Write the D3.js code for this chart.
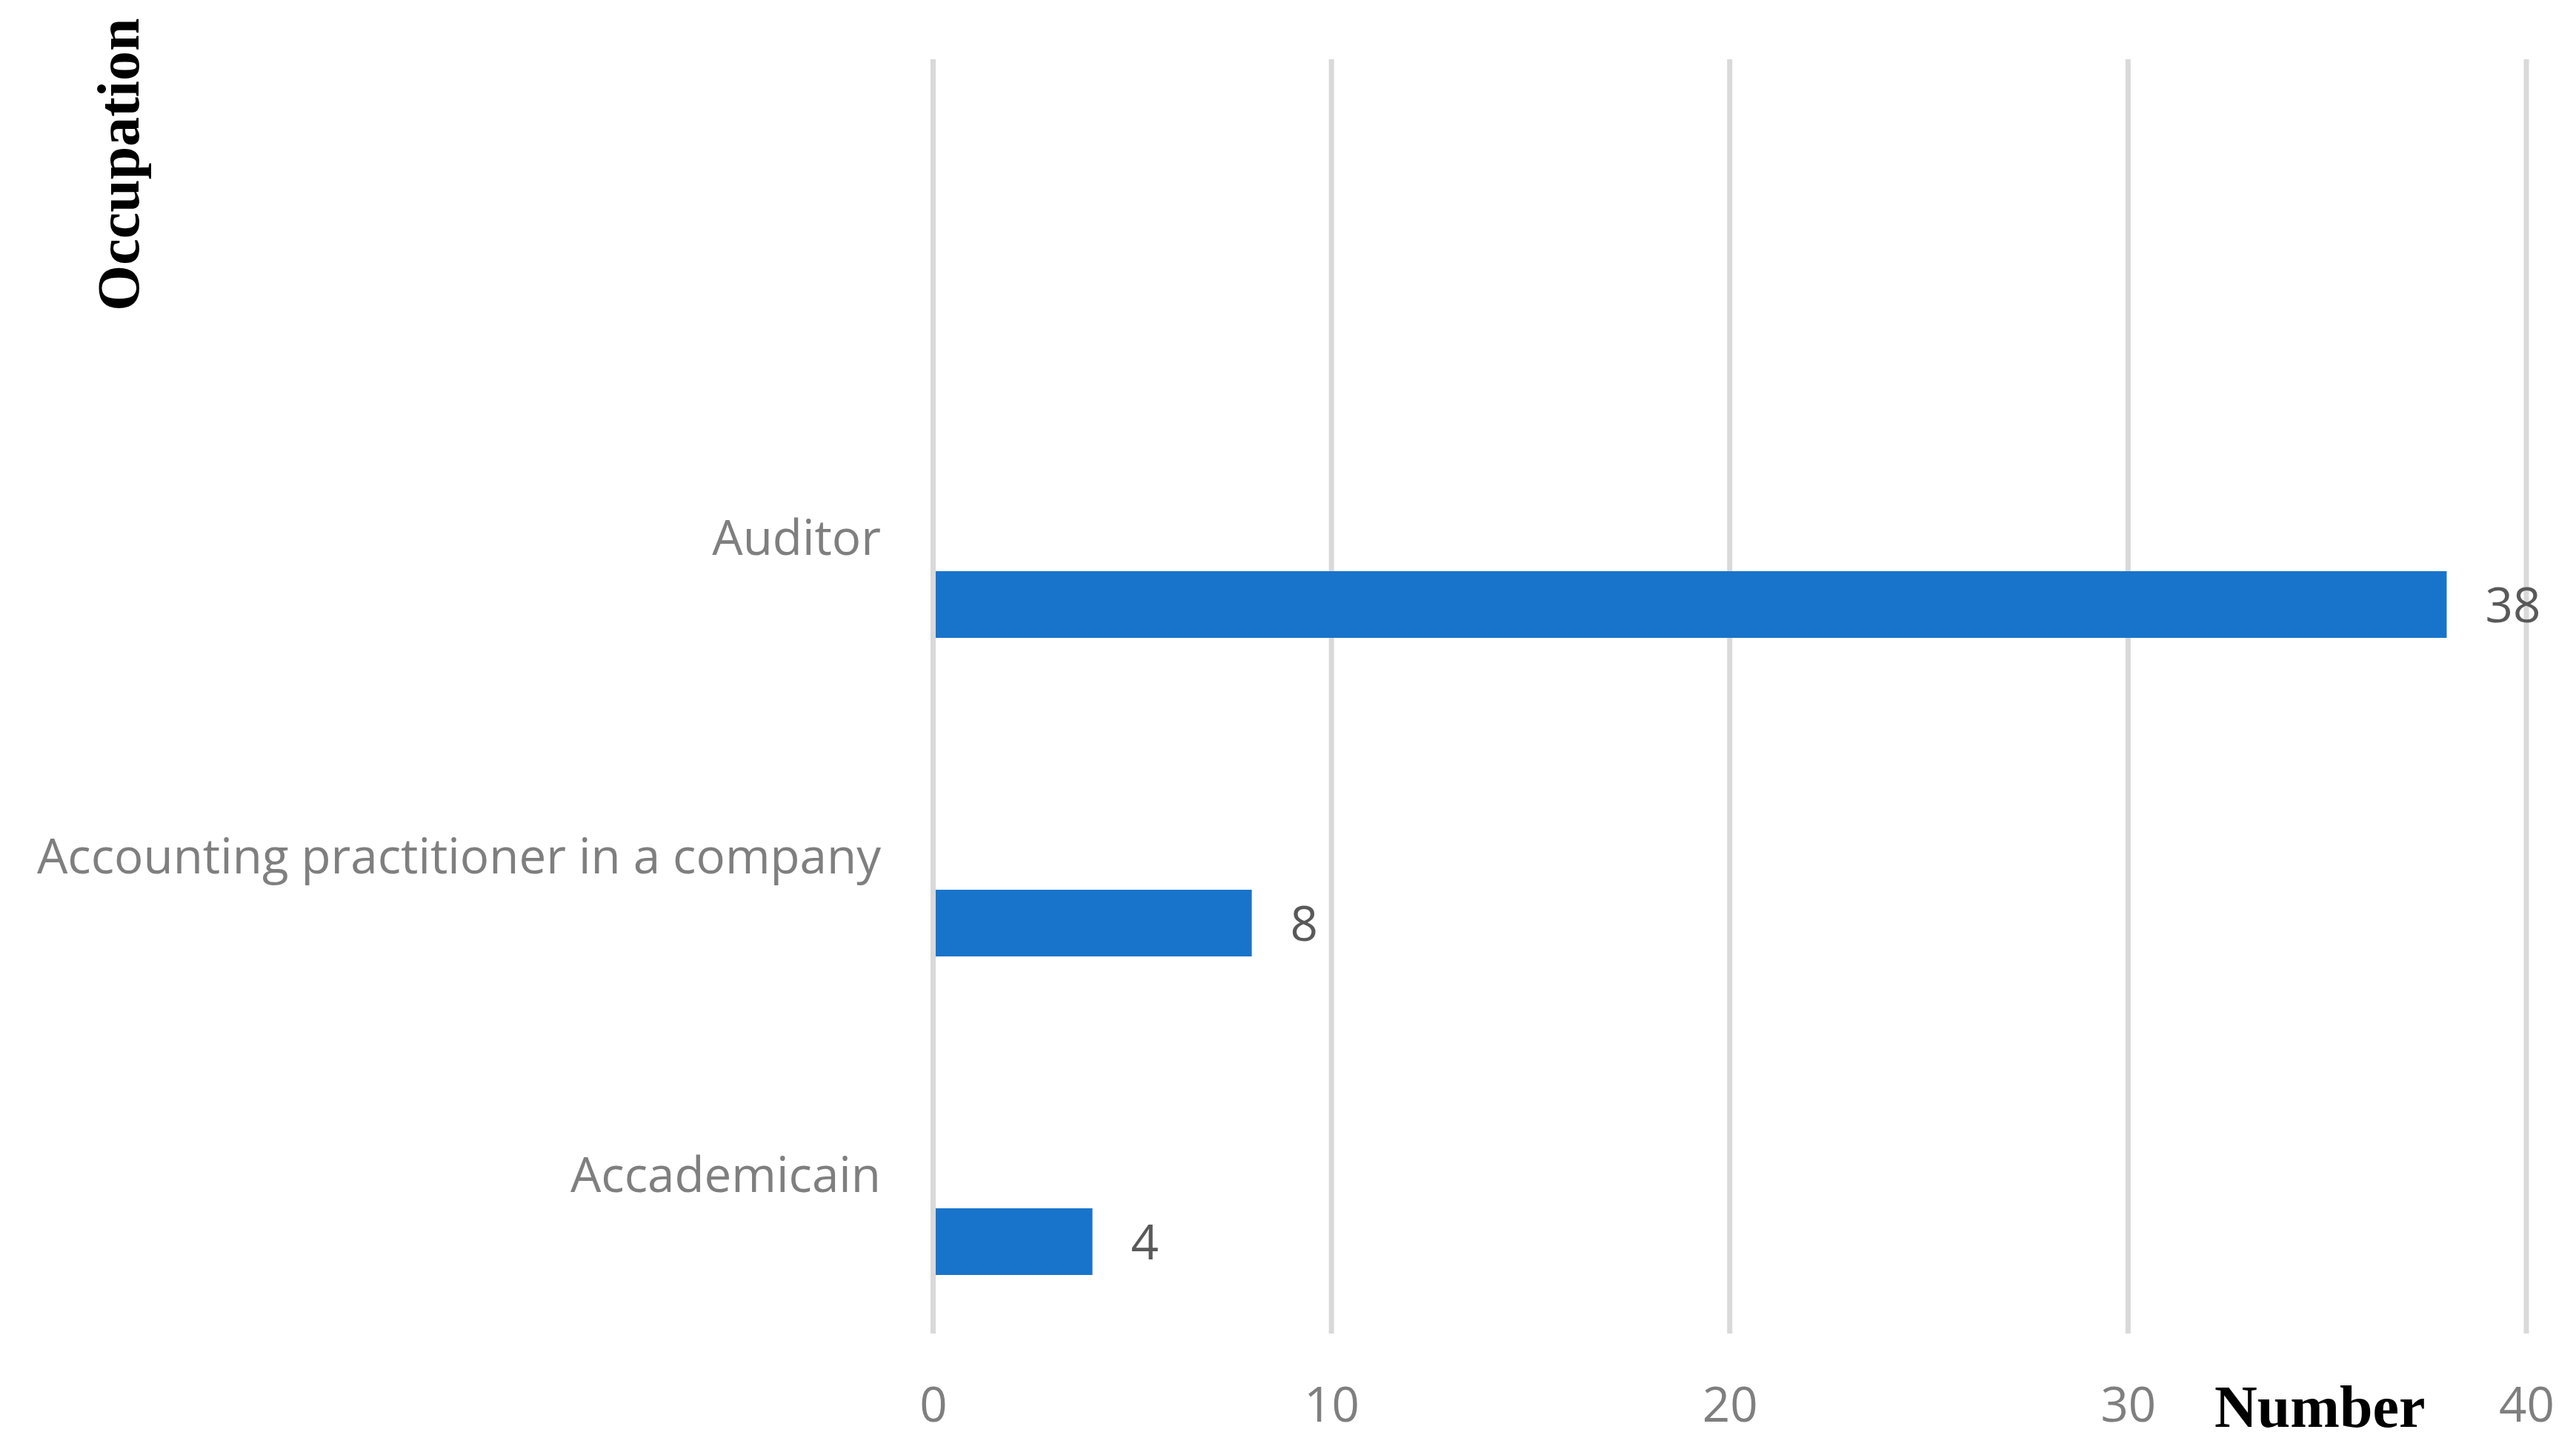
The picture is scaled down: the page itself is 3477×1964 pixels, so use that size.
<!DOCTYPE html>
<html>
<head>
<meta charset="utf-8">
<script src="https://cdn.jsdelivr.net/npm/d3@7"></script>
<style>
html,body{margin:0;padding:0;background:#fff;}
svg{display:block;}
</style>
</head>
<body>
<svg id="chart" width="3477" height="1964"></svg>
<script>
const categories = ["Auditor", "Accounting practitioner in a company", "Accademicain"];
const values = [38, 8, 4];
const xTicks = [0, 10, 20, 30, 40];
const xTitle = "Number";
const yTitle = "Occupation";

const W = 3477, H = 1964;
const svg = d3.select("#chart");
const labelFont = "'Open Sans', 'Noto Sans', sans-serif";
const titleFont = "'Liberation Serif', 'DejaVu Serif', serif";
const labelSize = 65.5;

const plotTop = 80, plotBottom = 1800;
const x = d3.scaleLinear().domain([0, 40]).range([1259.5, 3410]);
// four equal category bands; the top one is empty
const bandH = (plotBottom - plotTop) / 4;
const y = d3.scaleBand().domain(categories).range([plotTop + bandH, plotBottom]);

// gridlines
svg.append("g")
  .selectAll("line").data(xTicks).join("line")
  .attr("x1", d => x(d)).attr("x2", d => x(d))
  .attr("y1", plotTop).attr("y2", plotBottom)
  .attr("stroke", "#d9d9d9").attr("stroke-width", 7);

// x tick labels
const xAxis = d3.axisBottom(x).tickValues(xTicks).tickSize(0).tickPadding(0).tickFormat(d3.format("d"));
const gx = svg.append("g").attr("transform", `translate(0,1919)`).call(xAxis);
gx.select(".domain").remove();
gx.selectAll("text")
  .attr("dy", 0).attr("y", 0)
  .attr("font-family", labelFont).attr("font-size", labelSize).attr("fill", "#7f7f7f");

// bars
const barOff = 0.607, barFrac = 0.2093;
svg.append("g")
  .selectAll("rect").data(values).join("rect")
  .attr("x", x(0) + 3.5)
  .attr("y", (d, i) => y(categories[i]) + y.bandwidth() * barOff)
  .attr("width", d => x(d) - x(0) - 3.5)
  .attr("height", y.bandwidth() * barFrac)
  .attr("fill", "#1874cb");

// data labels
svg.append("g")
  .selectAll("text").data(values).join("text")
  .attr("x", d => x(d) + 52)
  .attr("y", (d, i) => y(categories[i]) + y.bandwidth() * (barOff + barFrac / 2))
  .attr("dy", "0.36em")
  .attr("font-family", labelFont).attr("font-size", labelSize).attr("fill", "#595959")
  .text(d => d);

// category labels
const yAxis = d3.axisLeft(y).tickSize(0).tickPadding(0);
const gy = svg.append("g").attr("transform", `translate(1189,0)`).call(yAxis);
gy.select(".domain").remove();
gy.selectAll("text")
  .attr("x", 0).attr("dy", "0.36em")
  .attr("font-family", labelFont).attr("font-size", labelSize).attr("fill", "#7f7f7f")
  .attr("text-anchor", "end");

// axis titles
svg.append("text")
  .attr("x", 2989).attr("y", 1926)
  .attr("font-family", titleFont).attr("font-weight", "bold").attr("font-size", 80)
  .attr("fill", "#000").text(xTitle);

svg.append("text")
  .attr("transform", "translate(187,420) rotate(-90)")
  .attr("font-family", titleFont).attr("font-weight", "bold").attr("font-size", 80)
  .attr("fill", "#000").text(yTitle);
</script>
</body>
</html>
